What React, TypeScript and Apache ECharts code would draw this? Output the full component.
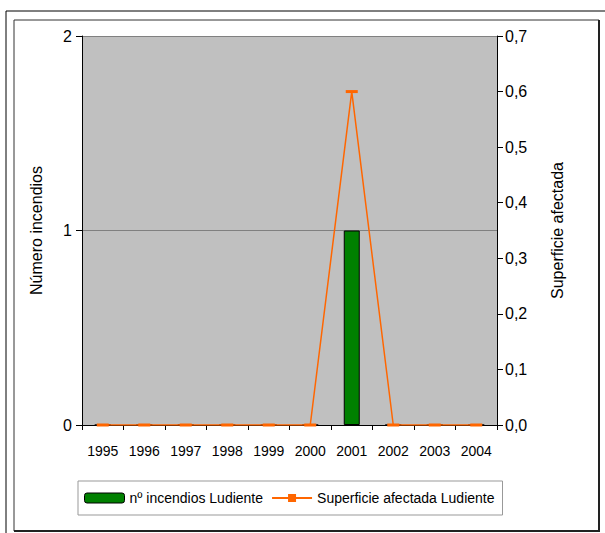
import React, { useEffect, useRef } from "react";
import * as echarts from "echarts";

const years = ["1995", "1996", "1997", "1998", "1999", "2000", "2001", "2002", "2003", "2004"];
const incendios = [0, 0, 0, 0, 0, 0, 1, 0, 0, 0];
const superficie = [0, 0, 0, 0, 0, 0, 0.6, 0, 0, 0];
const barName = "nº incendios Ludiente";
const lineName = "Superficie afectada Ludiente";

export default function App() {
  const ref = useRef<HTMLDivElement>(null);
  useEffect(() => {
    if (!ref.current) return;
    const chart = echarts.init(ref.current, undefined, { renderer: "svg" });
    const font = "'Liberation Sans', Arial, sans-serif";
    chart.setOption({
      animation: false,
      textStyle: { fontFamily: font },
      grid: { left: 82, right: 108, top: 36, bottom: 108, show: true, backgroundColor: "#C0C0C0", borderWidth: 0 },
      graphic: [
        { type: "rect", shape: { x: 6, y: 11, width: 620, height: 560 }, style: { fill: "none", stroke: "#000", lineWidth: 1 } },
        { type: "rect", shape: { x: 14, y: 20, width: 585, height: 511 }, style: { fill: "none", stroke: "#333", lineWidth: 1 } },
        { type: "line", shape: { x1: 599, y1: 20, x2: 599, y2: 532 }, style: { stroke: "#222", lineWidth: 2 } },
        { type: "line", shape: { x1: 14, y1: 531, x2: 600, y2: 531 }, style: { stroke: "#222", lineWidth: 2 } },
      ],
      legend: {
        left: 78,
        top: 481,
        width: 425,
        itemWidth: 40,
        itemHeight: 10,
        itemGap: 8,
        padding: [10, 8, 10, 6],
        borderColor: "#999",
        borderWidth: 1,
        textStyle: { fontFamily: font, fontSize: 14, color: "#000" },
        data: [
          { name: barName, itemStyle: { borderColor: "#000", borderWidth: 1 } },
          { name: lineName },
        ],
      },
      xAxis: {
        type: "category",
        data: years,
        boundaryGap: true,
        axisLine: { lineStyle: { color: "#000", width: 1 } },
        axisTick: { show: true, length: 5, lineStyle: { color: "#000" } },
        axisLabel: { color: "#000", fontSize: 14, fontFamily: font, margin: 19, interval: 0 },
      },
      yAxis: [
        {
          type: "value",
          min: 0,
          max: 2,
          interval: 1,
          name: "Número incendios",
          nameLocation: "middle",
          nameGap: 38,
          nameTextStyle: { color: "#000", fontSize: 16, fontFamily: font },
          axisLine: { show: true, lineStyle: { color: "#000" } },
          axisTick: { show: true, length: 6, lineStyle: { color: "#000" } },
          axisLabel: { color: "#000", fontSize: 16, fontFamily: font, margin: 10 },
          splitLine: { show: true, lineStyle: { color: "#808080", width: 1 } },
        },
        {
          type: "value",
          min: 0,
          max: 0.7,
          interval: 0.1,
          position: "right",
          name: "Superficie afectada",
          nameLocation: "middle",
          nameGap: 52,
          nameRotate: 90,
          nameTextStyle: { color: "#000", fontSize: 16, fontFamily: font },
          axisLine: { show: true, lineStyle: { color: "#000" } },
          axisTick: { show: true, length: 6, lineStyle: { color: "#000" } },
          axisLabel: {
            color: "#000",
            fontSize: 16,
            fontFamily: font,
            margin: 8,
            formatter: (v: number) => v.toFixed(1).replace(".", ","),
          },
          splitLine: { show: false },
        },
      ],
      series: [
        {
          name: barName,
          type: "bar",
          data: incendios,
          yAxisIndex: 0,
          barWidth: 16,
          itemStyle: { color: "#008000", borderColor: "#000", borderWidth: 1 },
        },
        {
          name: lineName,
          type: "line",
          data: superficie,
          yAxisIndex: 1,
          symbol: "rect",
          symbolSize: [12, 3],
          lineStyle: { color: "#FF6600", width: 1.5 },
          itemStyle: { color: "#FF6600" },
        },
      ],
    });
    return () => chart.dispose();
  }, []);
  return <div ref={ref} style={{ position: "absolute", left: 0, top: 0, width: 605, height: 533 }} />;
}
